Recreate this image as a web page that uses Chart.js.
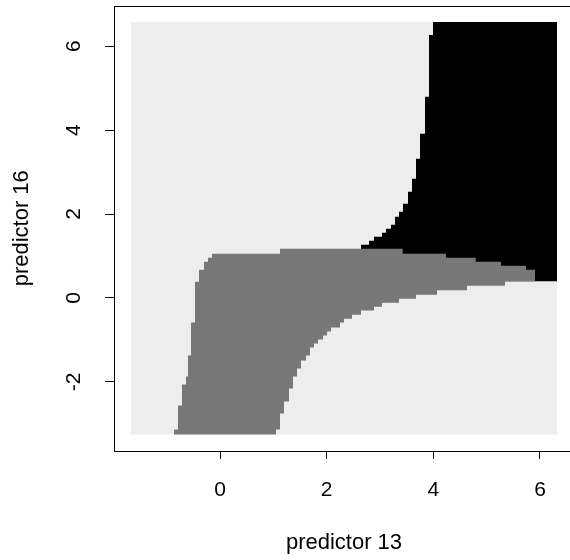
<!DOCTYPE html>
<html>
<head>
<meta charset="utf-8">
<script src="https://cdn.jsdelivr.net/npm/chart.js@4/dist/chart.umd.min.js"></script>
<style>
  html, body { margin: 0; padding: 0; background: #fff; overflow: hidden; }
  #wrap { width: 580px; height: 560px; }
</style>
</head>
<body>
<div id="wrap"><canvas id="myChart" width="580" height="560"></canvas></div>
<script>
const ctx = document.getElementById('myChart').getContext('2d');

// axis ticks
const xTicks = [0, 2, 4, 6];
const yTicks = [-2, 0, 2, 4, 6];
const xTitle = 'predictor 13';
const yTitle = 'predictor 16';

// extent of the image grid
const gridX = [-1.669, 6.319];
const gridY = [-3.255, 6.579];

// region 2 (mid gray): upper edge, each value holds from its x to the next x
const grayTopX = [-0.8625, -0.7875, -0.7125, -0.6375, -0.600, -0.544, -0.469, -0.394, -0.300, -0.225, -0.150, 1.125, 3.426, 4.238, 4.795, 5.269, 5.738, 5.907];
const grayTopY = [-3.136, -2.564, -2.064, -1.874, -1.374, -0.588, 0.388, 0.674, 0.864, 0.960, 1.055, 1.174, 1.055, 0.960, 0.864, 0.769, 0.674, 0.674];

// region 2: lower edge
const grayBotX = [-0.8625, 1.050, 1.125, 1.200, 1.294, 1.369, 1.444, 1.519, 1.613, 1.688, 1.763, 1.838, 1.931, 2.006, 2.081, 2.250, 2.325, 2.475, 2.644, 2.888, 3.038, 3.356, 3.675, 4.069, 4.631, 5.344, 5.907];
const grayBotY = [-3.255, -3.136, -2.755, -2.469, -2.160, -1.874, -1.683, -1.493, -1.374, -1.183, -1.088, -0.993, -0.898, -0.802, -0.707, -0.588, -0.493, -0.398, -0.302, -0.207, -0.112, -0.017, 0.079, 0.181, 0.293, 0.395, 0.395];

// region 3 (black): lower-left edge seen from each column
const blackTopX = [2.644, 2.794, 2.888, 3.038, 3.113, 3.206, 3.281, 3.356, 3.431, 3.525, 3.600, 3.675, 3.750, 3.844, 3.919, 3.994, 6.319];
const blackTopY = [1.269, 1.364, 1.460, 1.555, 1.650, 1.745, 1.936, 2.055, 2.245, 2.531, 2.840, 3.317, 3.912, 4.793, 6.269, 6.579, 6.579];
const blackBase = 0.395;

const LIGHT = '#ededed';
const MID = '#777777';
const DARK = '#000000';
const FONT = '"Liberation Sans", Arial, Helvetica, sans-serif';

function pts(xs, ys) {
	return xs.map((x, i) => ({x: x, y: ys[i]}));
}

// chart.js 'before' keeps a point's value until the next point
const base = {
	stepped: 'before',
	pointRadius: 0,
	borderWidth: 0,
	borderColor: 'rgba(0,0,0,0)',
	tension: 0
};

const rPlot = {
	id: 'rPlot',
	afterDraw(chart) {
		const c = chart.ctx;
		const a = chart.chartArea;
		const sx = chart.scales.x;
		const sy = chart.scales.y;
		c.save();
		c.strokeStyle = '#000';
		c.lineWidth = 1;
		c.strokeRect(Math.round(a.left) + 0.5, Math.round(a.top) + 0.5,
			Math.round(a.right - a.left), Math.round(a.bottom - a.top) - 1);

		c.fillStyle = '#000';
		c.font = '21px ' + FONT;
		c.textAlign = 'center';
		c.textBaseline = 'middle';
		xTicks.forEach(v => {
			c.fillText(String(v), sx.getPixelForValue(v), 490);
		});
		yTicks.forEach(v => {
			c.save();
			c.translate(74.5, sy.getPixelForValue(v));
			c.rotate(-Math.PI / 2);
			c.fillText(String(v), 0, 0);
			c.restore();
		});

		c.font = '22px ' + FONT;
		c.fillText(xTitle, (a.left + a.right) / 2, 543);
		c.save();
		c.translate(22, (a.top + a.bottom) / 2);
		c.rotate(-Math.PI / 2);
		c.fillText(yTitle, 0, 0);
		c.restore();
		c.restore();
	}
};

new Chart(ctx, {
	type: 'line',
	data: {
		datasets: [
		{
			...base,
			data: pts(grayTopX, grayTopY),
			backgroundColor: MID,
			fill: '+1',
			order: 1
		},
		{
			...base,
			data: pts(grayBotX, grayBotY),
			backgroundColor: MID,
			fill: false,
			order: 1
		},
		{
			...base,
			data: pts(blackTopX, blackTopY),
			backgroundColor: DARK,
			fill: {value: blackBase},
			order: 2
		},
		{
			...base,
			stepped: false,
			data: pts(gridX, [gridY[1], gridY[1]]),
			backgroundColor: LIGHT,
			fill: {value: gridY[0]},
			order: 3
		}]
	},
	options: {
		responsive: false,
		animation: false,
		devicePixelRatio: 1,
		layout: {padding: {top: 5.5, right: 6, left: 0, bottom: 0}},
		plugins: {legend: {display: false}, tooltip: {enabled: false}},
		scales: {
			x: {
				type: 'linear',
				min: -1.988,
				max: 6.638,
				afterBuildTicks: s => { s.ticks = xTicks.map(v => ({value: v})); },
				afterFit: s => { s.height = 109; },
				ticks: {display: false},
				grid: {drawOnChartArea: false, drawTicks: true, tickLength: 8, color: '#000', lineWidth: 1},
				border: {display: false}
			},
			y: {
				type: 'linear',
				min: -3.648,
				max: 6.97,
				afterBuildTicks: s => { s.ticks = yTicks.map(v => ({value: v})); },
				afterFit: s => { s.width = 114; },
				ticks: {display: false},
				grid: {drawOnChartArea: false, drawTicks: true, tickLength: 9, color: '#000', lineWidth: 1},
				border: {display: false}
			}
		}
	},
	plugins: [rPlot]
});
</script>
</body>
</html>
